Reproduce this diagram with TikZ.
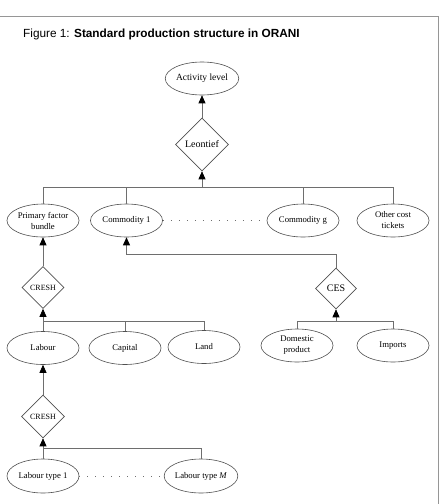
\documentclass[tikz,border=0pt]{standalone}
\usepackage{fontspec}
\setmainfont{Liberation Serif}
\newfontfamily\titlefont{Liberation Sans}
\usetikzlibrary{shapes.geometric,arrows.meta}
\definecolor{linecol}{RGB}{110,110,110}
\definecolor{framecol}{RGB}{150,150,150}
\definecolor{shapecol}{RGB}{80,80,80}
\tikzset{
  ell/.style={ellipse,draw=shapecol,line width=0.6pt,minimum width=72pt,minimum height=33pt,inner sep=0pt,align=center,font=\fontsize{8.7}{11}\selectfont},
  dia/.style={diamond,draw=shapecol,line width=0.6pt,inner sep=0pt,aspect=1},
  conn/.style={draw=linecol,line width=0.7pt},
  arr/.style={conn,-{Triangle[length=8pt,width=7pt,fill=black,color=black]}},
  dots/.style={draw=linecol,line width=0.7pt,dash pattern=on 1pt off 7pt},
}
\begin{document}
\begin{tikzpicture}[x=1pt,y=-1pt]
\useasboundingbox (0,0) rectangle (442,504);
% frame
\draw[framecol,line width=1.5pt] (0,16.5) -- (438.5,16.5) -- (438.5,504);
% title
\node[anchor=base west,inner sep=0pt,font=\titlefont\fontsize{11.8}{13}\selectfont] (title) at (23,37.5) {Figure 1: \textbf{Standard production structure in ORANI}};
% nodes
\node[ell,minimum width=73pt,font=\fontsize{9.5}{11}\selectfont] (act) at (202,78.5) {Activity level};
\node[dia,minimum size=53pt,font=\fontsize{10}{12}\selectfont] (leon) at (202,144.5) {Leontief};
\node[ell] (pfb) at (43,220.5) {Primary factor\\bundle};
\node[ell] (c1) at (126.5,220.5) {Commodity 1};
\node[ell] (cg) at (303,220.5) {Commodity g};
\node[ell] (oct) at (393,220.5) {Other cost\\tickets};
\node[dia,minimum size=42pt,font=\fontsize{8}{10}\selectfont] (cresha) at (43,287.5) {CRESH};
\node[dia,minimum size=41pt,font=\fontsize{10}{12}\selectfont] (ces) at (336,288.5) {CES};
\node[ell] (lab) at (43,348) {Labour};
\node[ell] (cap) at (125,348) {Capital};
\node[ell] (land) at (204,347) {Land};
\node[ell] (dom) at (297,345.5) {Domestic\\product};
\node[ell] (imp) at (393,345.5) {Imports};
\node[dia,minimum size=43pt,font=\fontsize{8}{10}\selectfont] (creshb) at (43,416.5) {CRESH};
\node[ell,minimum height=34pt] (lt1) at (43,476) {Labour type 1};
\node[ell,minimum height=34pt] (ltm) at (201,476) {Labour type \textit{M}};
% bar coordinates
\coordinate (lbar) at (202,187);
\coordinate (cbar) at (43,321);
\coordinate (sbar) at (336,321);
\coordinate (dbar) at (43,448);
\coordinate (rbar) at (126.5,254);
% Leontief level
\draw[arr] (leon.north) -- (act.south);
\draw[conn] (pfb.north) -- (pfb.north |- lbar) -- (oct.north |- lbar) -- (oct.north);
\draw[conn] (c1.north) -- (c1.north |- lbar);
\draw[conn] (cg.north) -- (cg.north |- lbar);
\draw[arr] (lbar) -- (leon.south);
\draw[dots] (c1.east) -- (cg.west);
% CRESH (primary factors)
\draw[arr] (cresha.north) -- (pfb.south);
\draw[conn] (lab.north) -- (lab.north |- cbar) -- (land.north |- cbar) -- (land.north);
\draw[conn] (cap.north) -- (cap.north |- cbar);
\draw[arr] (cbar) -- (cresha.south);
% CES
\draw[arr] (ces.north) -- (ces.north |- rbar) -- (rbar) -- (c1.south);
\draw[conn] (dom.north) -- (dom.north |- sbar) -- (imp.north |- sbar) -- (imp.north);
\draw[arr] (sbar) -- (ces.south);
% CRESH (labour)
\draw[arr] (creshb.north) -- (lab.south);
\draw[conn] (lt1.north) -- (lt1.north |- dbar) -- (ltm.north |- dbar) -- (ltm.north);
\draw[arr] (dbar) -- (creshb.south);
\draw[dots] (lt1.east) -- (ltm.west);
\end{tikzpicture}
\end{document}
